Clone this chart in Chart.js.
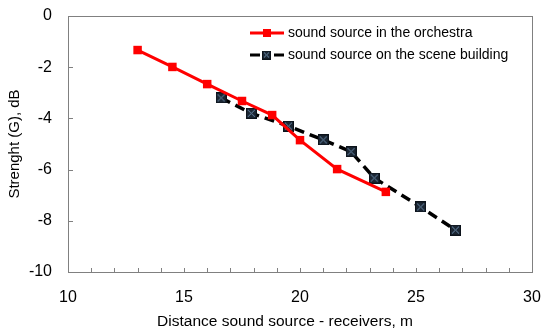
<!DOCTYPE html>
<html>
<head>
<meta charset="utf-8">
<script src="https://cdn.jsdelivr.net/npm/chart.js@4.4.1/dist/chart.umd.min.js"></script>
<style>
  html, body { margin: 0; padding: 0; background: #fff; }
  #wrap { width: 550px; height: 336px; }
</style>
</head>
<body>
<div id="wrap"><canvas id="chart"></canvas></div>
<script>
// data
var orchestraX = [13.0, 14.5, 16.0, 17.5, 18.8, 20.0, 21.6, 23.7];
var orchestraY = [-1.33, -1.99, -2.66, -3.32, -3.87, -4.85, -5.98, -6.87];
var sceneX = [16.6, 17.9, 19.5, 21.0, 22.2, 23.2, 25.2, 26.7];
var sceneY = [-3.2, -3.8, -4.3, -4.84, -5.3, -6.33, -7.46, -8.36];
var seriesNames = ["sound source in the orchestra", "sound source on the scene building"];
var xTitle = 'Distance sound source - receivers, m';
var yTitle = 'Strenght (G), dB';

function toPoints(xs, ys) {
    return xs.map(function (x, i) { return { x: x, y: ys[i] }; });
}

// square marker with a cross, for the second series
function crossBox(size) {
    var c = document.createElement('canvas');
    c.width = size; c.height = size;
    var g = c.getContext('2d');
    g.fillStyle = '#1b2633';
    g.fillRect(0, 0, size, size);
    g.strokeStyle = '#0b121a';
    g.lineWidth = 1;
    g.strokeRect(0.5, 0.5, size - 1, size - 1);
    g.strokeStyle = '#6a8aaa';
    g.beginPath();
    g.moveTo(2, 2); g.lineTo(size - 2, size - 2);
    g.moveTo(size - 2, 2); g.lineTo(2, size - 2);
    g.stroke();
    return c;
}
var boxMarker = crossBox(11);
var fontFamily = '"Liberation Sans", Arial, sans-serif';

// frame, inner tick marks, x title and the legend
var extras = {
    id: 'extras',
    afterDraw: function (chart) {
        var ctx = chart.ctx, a = chart.chartArea;
        var xs = chart.scales.x, ys = chart.scales.y;
        ctx.save();
        ctx.strokeStyle = '#808080';
        ctx.lineWidth = 1;
        ctx.strokeRect(Math.round(a.left) + 0.5, Math.round(a.top) + 0.5,
            Math.round(a.right - a.left), Math.round(a.bottom - a.top));
        ctx.beginPath();
        for (var v = 10; v <= 30; v++) {
            var px = Math.round(xs.getPixelForValue(v)) + 0.5;
            ctx.moveTo(px, a.bottom); ctx.lineTo(px, a.bottom - 4);
        }
        for (var w = -10; w <= 0; w += 2) {
            var py = Math.round(ys.getPixelForValue(w)) + 0.5;
            ctx.moveTo(a.left, py); ctx.lineTo(a.left + 5, py);
        }
        ctx.stroke();

        // x axis title (sits a bit left of the plot centre in the original)
        ctx.fillStyle = '#000';
        ctx.font = '15.5px ' + fontFamily;
        ctx.textAlign = 'center';
        ctx.textBaseline = 'middle';
        ctx.fillText(xTitle, (a.left + a.right) / 2 - 15, 322);

        // legend
        var lx = 250, ly = [33, 55];
        ctx.textAlign = 'left';
        ctx.font = '14px ' + fontFamily;
        ctx.strokeStyle = '#ff0000';
        ctx.lineWidth = 3;
        ctx.beginPath(); ctx.moveTo(lx, ly[0]); ctx.lineTo(lx + 34, ly[0]); ctx.stroke();
        ctx.fillStyle = '#ff0000';
        ctx.fillRect(lx + 13, ly[0] - 4, 8, 8);
        ctx.strokeStyle = '#000';
        ctx.lineWidth = 3;
        ctx.beginPath(); ctx.moveTo(lx, ly[1]); ctx.lineTo(lx + 10, ly[1]);
        ctx.moveTo(lx + 24, ly[1]); ctx.lineTo(lx + 34, ly[1]); ctx.stroke();
        ctx.drawImage(crossBox(9), lx + 12, ly[1] - 4.5);
        ctx.fillStyle = '#000';
        ctx.fillText(seriesNames[0], lx + 38, ly[0]);
        ctx.fillText(seriesNames[1], lx + 38, ly[1]);
        ctx.restore();
    }
};

var ctx = document.getElementById('chart');

var chartData = {
    datasets: [{
        label: seriesNames[0],
        data: toPoints(orchestraX, orchestraY),
        borderColor: '#ff0000',
        backgroundColor: '#ff0000',
        borderWidth: 3,
        pointStyle: 'rect',
        pointRadius: 6,
        pointBorderWidth: 0,
        showLine: true
    }, {
        label: seriesNames[1],
        data: toPoints(sceneX, sceneY),
        borderColor: '#000000',
        backgroundColor: '#000000',
        borderWidth: 3.5,
        borderDash: [10, 6],
        pointStyle: boxMarker,
        showLine: true
    }]
};

var tickFont = { family: fontFamily, size: 16 };

var chartOptions = {
    responsive: true,
    maintainAspectRatio: false,
    animation: false,
    layout: { padding: { left: 0, top: 16, right: 18, bottom: 0 } },
    plugins: { legend: { display: false }, tooltip: { enabled: false } },
    scales: {
        x: {
            type: 'linear',
            min: 10, max: 30,
            afterFit: function (s) {
                s.height = 64;
                s.paddingLeft = 0; s.paddingRight = 0;
            },
            grid: { display: false, drawTicks: false },
            border: { display: true, color: '#808080' },
            ticks: { stepSize: 5, padding: 16, color: '#000', font: tickFont },
            title: { display: false, text: xTitle }
        },
        y: {
            type: 'linear',
            min: -10, max: 0,
            afterFit: function (s) {
                s.width = 68;
                s.paddingTop = 0; s.paddingBottom = 0;
            },
            grid: { display: false, drawTicks: false },
            border: { display: true, color: '#808080' },
            ticks: { stepSize: 2, padding: 16, color: '#000', font: tickFont },
            title: {
                display: true,
                text: yTitle,
                color: '#000',
                font: { family: fontFamily, size: 15 },
                padding: { top: 6, bottom: 0 }
            }
        }
    }
};

new Chart(ctx, {
    type: 'scatter',
    data: chartData,
    options: chartOptions,
    plugins: [extras]
});
</script>
</body>
</html>
